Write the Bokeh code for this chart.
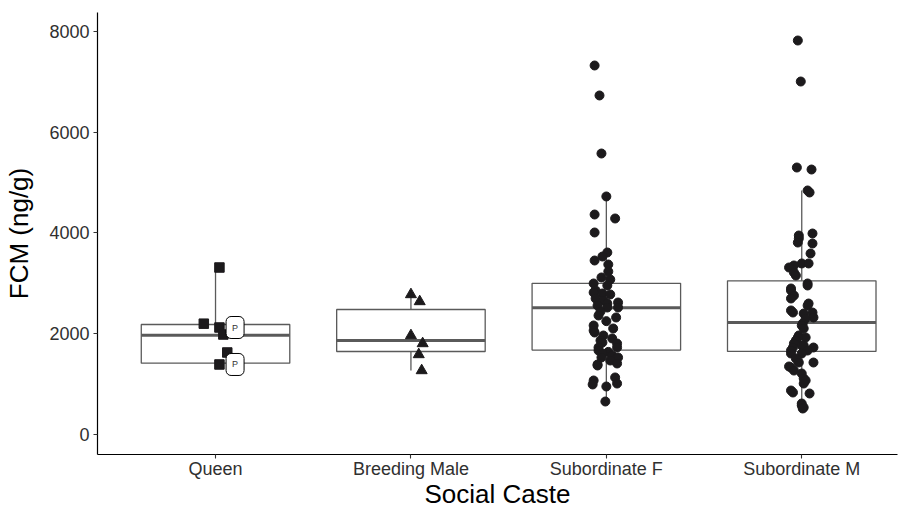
from bokeh.plotting import figure
from bokeh.models import FixedTicker, Range1d
from bokeh.embed import file_html
from bokeh.resources import INLINE
from bokeh.core.properties import value

categories = ["Queen", "Breeding Male", "Subordinate F", "Subordinate M"]
positions = [1, 2, 3, 4]

# box statistics
q1 = [1415, 1648, 1675, 1650]
median = [1970, 1866, 2518, 2223]
q3 = [2184, 2481, 3000, 3050]
whisk_lo = [1390, 1270, 655, 516]
whisk_hi = [3315, 2779, 4725, 4844]

y_ticks = [0, 2000, 4000, 6000, 8000]

# individual samples (value, horizontal jitter in category units)
queen_vals = [3315, 2200, 2124, 1985, 1628, 1390]
queen_jit = [0.02, -0.06, 0.02, 0.04, 0.06, 0.02]
queen_lab = ["", "", "P", "", "", "P"]

male_vals = [2779, 2640, 1965, 1806, 1588, 1270]
male_jit = [0.0, 0.045, 0.0, 0.06, 0.04, 0.055]

subf_vals = [7325, 6730, 5578, 4725, 4367, 4288, 4010, 3613, 3533, 3454, 3375, 3236,
             3117, 3077, 2998, 2958, 2859, 2819, 2799, 2780, 2700, 2660, 2620, 2600,
             2561, 2521, 2521, 2440, 2362, 2323, 2250, 2164, 2104, 2064, 2025, 1965,
             1906, 1866, 1826, 1806, 1727, 1727, 1667, 1640, 1608, 1568, 1529, 1529,
             1469, 1410, 1390, 1370, 1132, 1072, 1012, 993, 953, 655]
subf_jit = [-0.06, -0.035, -0.025, 0.0, -0.06, 0.045, -0.06, 0.005, -0.02, -0.06, 0.01, 0.01,
            -0.025, 0.02, -0.065, 0.005, -0.055, -0.065, -0.02, 0.02, -0.055, -0.015, 0.06, 0.005,
            -0.045, 0.005, 0.06, -0.03, -0.04, 0.05, 0.0, -0.065, 0.035, -0.065, -0.06, -0.015,
            0.03, -0.03, -0.02, 0.055, -0.04, 0.055, -0.04, 0.01, -0.02, 0.03, -0.025, 0.06,
            0.02, 0.055, -0.045, -0.045, 0.045, -0.065, 0.055, -0.07, 0.0, -0.005]

subm_vals = [7821, 7007, 5300, 5260, 4844, 4804, 3990, 3950, 3891, 3811, 3791, 3593,
             3395, 3395, 3355, 3315, 3216, 3156, 2998, 2958, 2898, 2859, 2759, 2700,
             2600, 2561, 2462, 2422, 2422, 2402, 2323, 2303, 2203, 2164, 2104, 1965,
             1926, 1926, 1866, 1806, 1767, 1767, 1727, 1727, 1667, 1667, 1608, 1608,
             1509, 1429, 1429, 1350, 1330, 1270, 1211, 1112, 1072, 1012, 873, 834,
             814, 615, 576, 536, 516]
subm_jit = [-0.02, -0.005, -0.025, 0.05, 0.03, 0.04, 0.055, -0.015, -0.015, -0.02, 0.055, 0.045,
            0.0, 0.035, -0.04, -0.065, -0.04, -0.03, 0.03, 0.03, -0.055, -0.055, -0.04, -0.055,
            0.035, 0.03, -0.055, 0.055, -0.045, 0.01, 0.06, 0.02, 0.005, 0.0, 0.01, -0.015,
            0.02, -0.02, -0.03, -0.04, 0.0, 0.01, 0.06, -0.045, 0.03, -0.055, -0.055, 0.0,
            -0.03, 0.06, -0.015, -0.065, -0.055, -0.04, 0.0, 0.01, 0.02, 0.01, -0.055, -0.045,
            0.04, 0.0, 0.0, 0.01, 0.005]

box_half = 0.38
box_col = "#5a5a5a"
pt_col = "#1c1a1c"
font = "Liberation Sans"

p = figure(width=905, height=511, output_backend="svg", toolbar_location=None,
           x_range=Range1d(0.396, 4.49), y_range=Range1d(-397, 8377),
           min_border_left=97, min_border_right=8, min_border_top=12, min_border_bottom=57)
p.outline_line_color = None
p.xgrid.visible = False
p.ygrid.visible = False
p.background_fill_color = "white"

# boxes
p.quad(left=[x - box_half for x in positions], right=[x + box_half for x in positions],
       bottom=q1, top=q3, fill_color="white", line_color=box_col, line_width=1.3)
p.segment(x0=positions, x1=positions, y0=q3, y1=whisk_hi, line_color=box_col, line_width=1.3)
p.segment(x0=positions, x1=positions, y0=whisk_lo, y1=q1, line_color=box_col, line_width=1.3)
p.segment(x0=[x - box_half for x in positions], x1=[x + box_half for x in positions],
          y0=median, y1=median, line_color=box_col, line_width=3)

# points
p.scatter(x=[1 + j for j in queen_jit], y=queen_vals, marker="square", size=9.5,
          fill_color=pt_col, line_color=pt_col)
p.scatter(x=[2 + j for j in male_jit], y=male_vals, marker="triangle", size=11,
          fill_color=pt_col, line_color=pt_col)
p.scatter(x=[3 + j for j in subf_jit], y=subf_vals, marker="circle", size=9,
          fill_color=pt_col, line_color=pt_col)
p.scatter(x=[4 + j for j in subm_jit], y=subm_vals, marker="circle", size=9,
          fill_color=pt_col, line_color=pt_col)

# labels
lab_x = [1 + 0.1 for l in queen_lab if l]
lab_y = [v for v, l in zip(queen_vals, queen_lab) if l]
lab_t = [l for l in queen_lab if l]
p.text(x=lab_x, y=lab_y, text=lab_t, text_font=value(font), text_font_size="9px",
       text_align="center", text_baseline="middle", text_color="#333333",
       background_fill_color="white", border_line_color="black", border_line_width=1,
       border_radius=5, padding=6)

# axes
for ax in (p.xaxis[0], p.yaxis[0]):
    ax.axis_line_color = "black"
    ax.axis_line_width = 1.2
    ax.major_tick_line_color = "#333333"
    ax.major_tick_line_width = 1.1
    ax.major_tick_out = 4
    ax.major_tick_in = 0
    ax.minor_tick_line_color = None
    ax.major_label_text_font = font
    ax.major_label_text_font_size = "18px"
    ax.major_label_text_color = "#303030"
    ax.axis_label_text_font = font
    ax.axis_label_text_font_size = "26px"
    ax.axis_label_text_font_style = "normal"
    ax.axis_label_text_color = "black"

p.xaxis.ticker = FixedTicker(ticks=positions)
p.xaxis.major_label_overrides = {pos: c for pos, c in zip(positions, categories)}
p.xaxis.axis_label = "Social Caste"
p.xaxis.major_label_standoff = 0
p.xaxis.axis_label_standoff = -3

p.yaxis.ticker = FixedTicker(ticks=y_ticks)
p.yaxis.axis_label = "FCM (ng/g)"
p.yaxis.major_label_standoff = 4
p.yaxis.axis_label_standoff = 12

open("out.html", "w").write(file_html(p, INLINE))
